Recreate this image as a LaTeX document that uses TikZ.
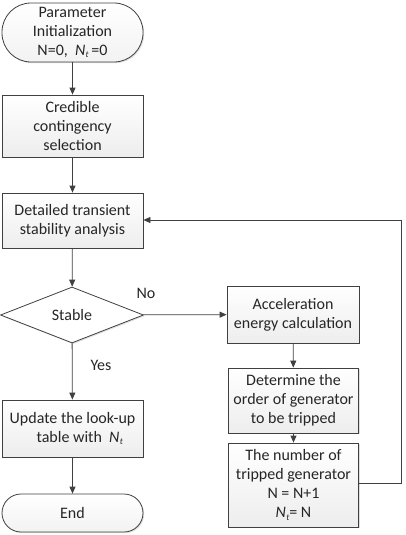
\documentclass[tikz,border=0pt]{standalone}
\usepackage{fontspec}
\setmainfont{Carlito}
\usetikzlibrary{arrows.meta,shapes.geometric,shadows}
\definecolor{ln}{HTML}{404040}
\newcommand{\Nt}{{\itshape N}\kern0.3pt\raisebox{-0.35ex}{\small\itshape t}}
\tikzset{
  base/.style={draw=ln, line width=0.8pt, align=center, inner sep=0pt,
    font=\fontsize{16pt}{19pt}\selectfont, text=black!85,
    drop shadow={opacity=0.25, shadow xshift=1.2pt, shadow yshift=-1.2pt}},
  procbox/.style={base, rectangle, top color=white, bottom color=gray!14},
  termbox/.style={base, rectangle, top color=white, bottom color=gray!10},
  decbox/.style={base, diamond, fill=white, aspect=2.5},
  conn/.style={ln, line width=0.8pt, -{Triangle[length=7pt,width=6pt]}},
  lbl/.style={font=\fontsize{16pt}{19pt}\selectfont, text=black!85, inner sep=0pt}
}
\begin{document}
\begin{tikzpicture}[x=1pt,y=-1pt]
\useasboundingbox (0,0) rectangle (405,535);
\node[termbox, minimum width=141pt, minimum height=59pt, rounded corners=29pt] (start) at (72.5,32.5)
  {Parameter\\Initialization\\N=0,\ \ \Nt\,=0};
\node[procbox, minimum width=141pt, minimum height=62pt] (cred) at (72.5,126)
  {Credible\\contingency\\selection};
\node[procbox, minimum width=141pt, minimum height=55pt] (det) at (72.5,220.5)
  {Detailed transient\\stability analysis};
\node[decbox, minimum width=143pt, minimum height=56pt] (stab) at (72,315) {Stable};
\node[procbox, minimum width=132pt, minimum height=57pt] (acc) at (293,314.5)
  {Acceleration\\energy calculation};
\node[procbox, minimum width=130pt, minimum height=65pt] (detm) at (293.5,400.5)
  {Determine the\\order of generator\\to be tripped};
\node[procbox, minimum width=130pt, minimum height=84pt] (num) at (293.5,485)
  {The number of\\tripped generator\\N = N+1\\\Nt= N};
\node[procbox, minimum width=141pt, minimum height=57pt] (upd) at (72.5,428.5)
  {Update the look-up\\\ \ \ \ table with\ \ \Nt};
\node[termbox, minimum width=141pt, minimum height=38pt, rounded corners=19pt] (end) at (72.5,513) {End};
\node[lbl] (no) at (146,293) {No};
\node[lbl] (yes) at (101,365) {Yes};
\coordinate (fb1) at (401,483);
\coordinate (fb2) at (401,220);
\draw[conn] (start) -- (cred);
\draw[conn] (cred) -- (det);
\draw[conn] (det) -- (stab);
\draw[conn] (stab) -- (acc);
\draw[conn] (stab) -- (upd);
\draw[conn] (upd) -- (end);
\draw[conn] (acc) -- (detm);
\draw[conn] (detm) -- (num);
\draw[conn] (num.east |- fb1) -- (fb1) -- (fb2) -- (det.east |- fb2);
\end{tikzpicture}
\end{document}
